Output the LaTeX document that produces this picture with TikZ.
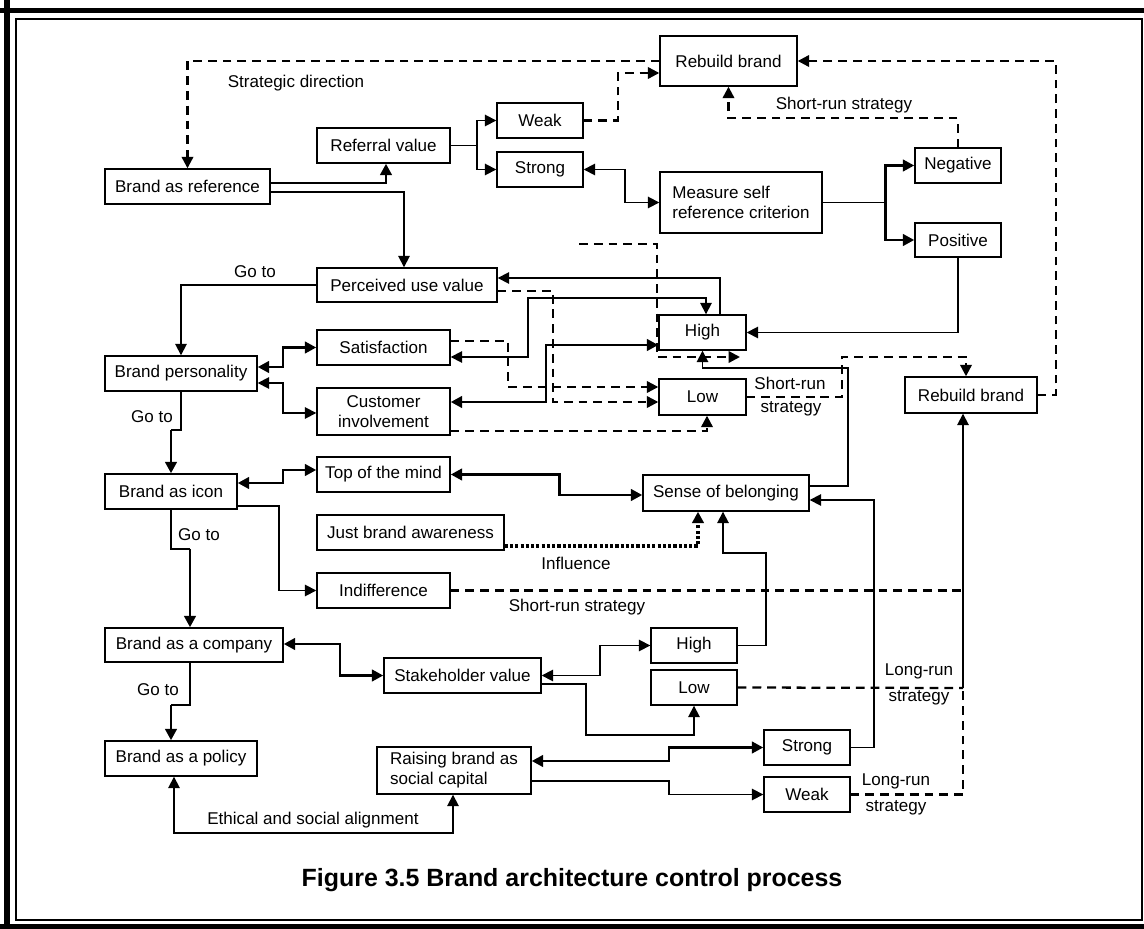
\documentclass[tikz,border=0pt]{standalone}
\usepackage{fontspec}
\setmainfont{Liberation Sans}
\usetikzlibrary{arrows.meta}
\newcommand{\fs}{\fontsize{9.7}{11.4}\selectfont}
\tikzset{
  cbox/.style 2 args={draw, line width=0.8pt, inner sep=1pt, align=center,
    minimum width=#1*0.02cm, minimum height=#2*0.02cm, font=\fs},
  lbl/.style={font=\fs, inner sep=0pt},
  tip/.style={-{Triangle[length=6.5pt,width=6.5pt]}},
  tips/.style={{Triangle[length=6.5pt,width=6.5pt]}-{Triangle[length=6.5pt,width=6.5pt]}},
  ln/.style={line width=1pt},
  thk/.style={line width=1.7pt},
  dsh/.style={line width=1.3pt, dash pattern=on 5pt off 3.4pt},
  dots/.style={line width=1.8pt, dash pattern=on 1.8pt off 1.2pt},
}
\begin{document}
\begin{tikzpicture}[x=0.02cm, y=-0.02cm, line join=miter]
\useasboundingbox (0,0) rectangle (1144,929);
% frame
\draw[line width=2.9pt] (0,10.5) -- (1144,10.5);
\draw[line width=3.4pt] (7,0) -- (7,929);
\draw[line width=2.9pt] (0,926.5) -- (1144,926.5);
\draw[line width=0.6pt] (16,19) rectangle (1142,920);

% boxes
\node[cbox={165}{35}] (ref) at (187.5,186.5) {Brand as reference};
\node[cbox={133}{35}] (referral) at (383.5,145.5) {Referral value};
\node[cbox={86}{35}] (weakT) at (540,120.5) {Weak};
\node[cbox={86}{35}] (strongT) at (540,169.5) {Strong};
\node[cbox={137}{50}] (rebuildT) at (728.5,61) {Rebuild brand};
\node[cbox={162}{61}, align=left] (measure) at (741,202.5) {Measure self\\reference criterion};
\node[cbox={86}{35}] (negative) at (958,165.5) {Negative};
\node[cbox={86}{34}] (positive) at (958,240) {Positive};
\node[cbox={180}{34}] (perceived) at (407,285) {Perceived use value};
\node[cbox={133}{35}] (satisf) at (383.5,347.5) {Satisfaction};
\node[cbox={133}{47}] (custinv) at (383.5,411.5) {Customer\\involvement};
\node[cbox={152}{35}] (personality) at (181,373.5) {Brand personality};
\node[cbox={87}{35}] (highU) at (702.5,332.5) {High};
\node[cbox={87}{36}] (lowU) at (702.5,397) {Low};
\node[cbox={132}{36}] (rebuildR) at (971,395) {Rebuild brand};
\node[cbox={132}{35}] (icon) at (171,491.5) {Brand as icon};
\node[cbox={133}{35}] (topmind) at (383.5,474.5) {Top of the mind};
\node[cbox={187}{35}] (jba) at (410.5,532.5) {Just brand awareness};
\node[cbox={133}{35}] (indiff) at (383.5,590.5) {Indifference};
\node[cbox={166}{36}] (belong) at (726,493) {Sense of belonging};
\node[cbox={178}{34}] (company) at (194,645) {Brand as a company};
\node[cbox={157}{35}] (stake) at (462.5,675.5) {Stakeholder value};
\node[cbox={86}{35}] (highL) at (694,645.5) {High};
\node[cbox={86}{35}] (lowL) at (694,687.5) {Low};
\node[cbox={152}{35}] (policy) at (181,758.5) {Brand as a policy};
\node[cbox={154}{47}, align=left] (raising) at (454,770.5) {Raising brand as\\social capital};
\node[cbox={86}{35}] (strongL) at (807,747.5) {Strong};
\node[cbox={86}{35}] (weakL) at (807,794.5) {Weak};

% labels
\node[lbl] (lStrat) at (296,83) {Strategic direction};
\node[lbl] (lShortT) at (844,105) {Short-run strategy};
\node[lbl] (lGo1) at (255,272) {Go to};
\node[lbl] (lGo2) at (152,417) {Go to};
\node[lbl] (lGo3) at (199,535) {Go to};
\node[lbl] (lGo4) at (158,690) {Go to};
\node[lbl] (lShortR1) at (790,383) {Short-run};
\node[lbl] (lShortR2) at (791,409) {strategy};
\node[lbl] (lInfl) at (576,563) {Influence};
\node[lbl] (lShortM) at (577,607) {Short-run strategy};
\node[lbl] (lLong1a) at (919,671) {Long-run};
\node[lbl] (lLong1b) at (919,698) {strategy};
\node[lbl] (lLong2a) at (896,781) {Long-run};
\node[lbl] (lLong2b) at (896,808) {strategy};
\node[lbl] (lEthic) at (313,820) {Ethical and social alignment};
\node[font=\fontsize{14.2}{17}\selectfont\bfseries] (caption) at (572,880)
  {Figure 3.5 Brand architecture control process};

% top part
\draw[dsh,tip] (rebuildT.west) -| (ref.north);
\draw[thk,tip] (ref.east |- 0,183) -| (referral.south -| 386,0);
\draw[ln,tip] (ref.east |- 0,192) -| (perceived.north -| 404,0);
\draw[ln] (referral.east) -- ++(26,0) coordinate (rv);
\draw[ln,tip] (rv) |- (weakT.west);
\draw[ln,tip] (rv) |- (strongT.west);
\draw[dsh,tip] (weakT.east) -- ++(34,0) |- (rebuildT.west |- 0,73);
\draw[ln,tips] (strongT.east) -- ++(41,0) |- (measure.west);
\draw[ln] (measure.east) -- ++(63,0) coordinate (mc);
\draw[thk,tip] (mc) |- (negative.west);
\draw[thk,tip] (mc) |- (positive.west);
\draw[dsh,tip] (negative.north) -- ++(0,-29) -| (rebuildT.south);
\draw[dsh,tip] (rebuildR.east) -- ++(18,0) |- (rebuildT.east);

% around the upper High and Low
\draw[ln,tip] (positive.south) |- (highU.east);
\draw[ln,tip] (highU.north -| 720,0) |- (perceived.east |- 0,278);
\draw[ln,tips] (satisf.east |- 0,357) -- (528,357) |- (706,298) -- (highU.north -| 706,0);
\draw[thk,tips] (custinv.east |- 0,402) -- (546,402) |- (highU.west |- 0,345);
\draw[dsh,tip] (satisf.east |- 0,341) -- (508,341) |- (lowU.west |- 0,387);
\draw[dsh,tip] (perceived.east |- 0,291) -- (553,291) |- (lowU.west |- 0,402);
\draw[dsh,tip] (custinv.east |- 0,431) -| (lowU.south -| 707,0);
\coordinate (dfree) at (579,244);
\draw[dsh,tip] (dfree) -- (657,244) -- (657,357) -- (740,357);
\draw[ln,tip] (belong.east |- 0,486) -| (848,368) -| (highU.south);
\draw[dsh,tip] (lowU.east) -| (842,357) -| (rebuildR.north -| 966,0);

% left column
\draw[ln,tip] (perceived.west) -| (personality.north);
\draw[thk,tips] (personality.east |- 0,367) -- (283,367) |- (satisf.west);
\draw[ln,tips] (personality.east |- 0,383) -- (283,383) |- (custinv.west |- 0,413);
\draw[ln] (personality.south) |- (171,430) coordinate (g1);
\draw[thk,tip] (g1) -- (icon.north);
\draw[thk,tips] (icon.east |- 0,483) -- (283,483) |- (topmind.west |- 0,470);
\draw[thk,tips] (topmind.east) -- ++(109,0) |- (belong.west |- 0,495);
\draw[dots,tip] (jba.east |- 0,546) -| (belong.south -| 698,0);
\draw[ln,tip] (icon.east |- 0,506) -- (279,506) |- (indiff.west);
\draw[ln] (icon.south) |- (190,549) coordinate (g2);
\draw[thk,tip] (g2) -- (company.north -| 190,0);
\draw[thk,tips] (company.east |- 0,644) -- (340,644) |- (stake.west);
\draw[ln,tips] (stake.east) -- ++(58,0) |- (highL.west);
\draw[ln,tip] (highL.east) -| (766,553) -| (belong.south -| 723,0);
\draw[ln,tip] (stake.east |- 0,684) -| (586,735) -| (lowL.south);
\draw[ln] (company.south -| 190,0) |- (171,705) coordinate (g3);
\draw[thk,tip] (g3) -- (policy.north -| 171,0);

% bottom part
\draw[thk,tips] (raising.east |- 0,761) -| (669,747.5) -- (strongL.west);
\draw[ln,tip] (raising.east |- 0,781) -| (669,794.5) -- (weakL.west);
\draw[ln,tip] (strongL.east) -- ++(23,0) |- (belong.east |- 0,500);
\draw[ln,tips] (raising.south -| 453,0) |- (174,833) -- (policy.south -| 174,0);

% long and short run strategy to the right rebuild
\coordinate (vj) at (963,688);
\draw[dsh] (indiff.east) -- (indiff.east -| vj);
\draw[dsh] (lowL.east) -- (vj);
\draw[dsh] (weakL.east) -| (vj);
\draw[ln,tip] (vj) -- (rebuildR.south -| vj);
\end{tikzpicture}
\end{document}
